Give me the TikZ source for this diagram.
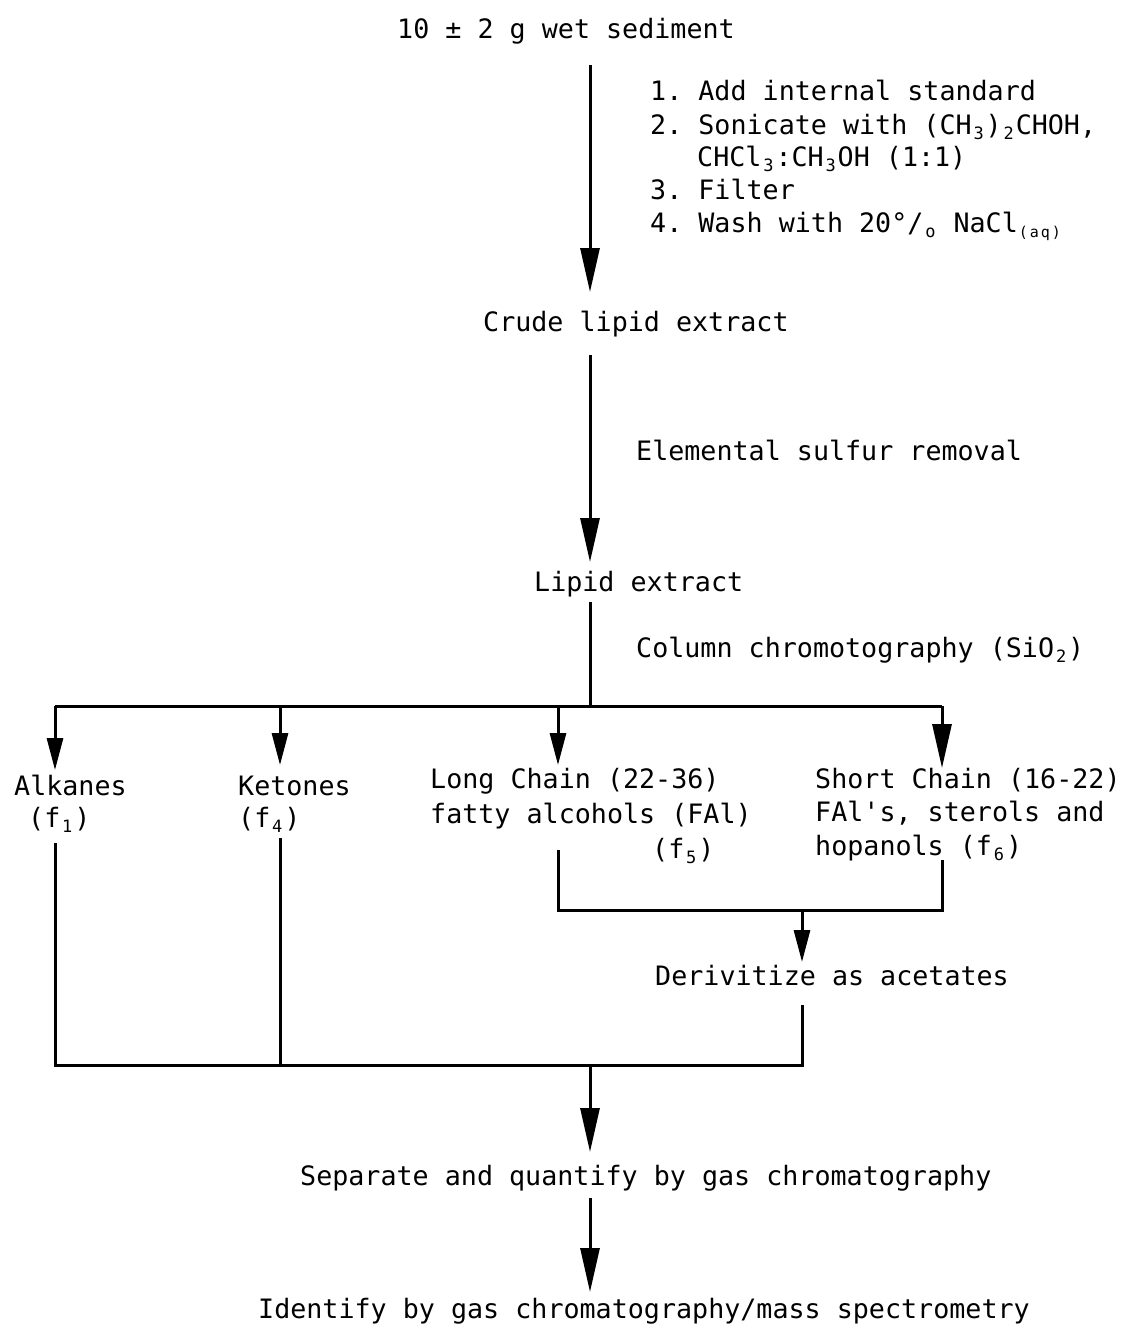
\documentclass[tikz,border=0pt]{standalone}
\usepackage{fontspec}
\setmainfont{DejaVu Sans Mono}
\usetikzlibrary{arrows.meta}
\newcommand\lowsub[1]{\makebox[14pt][c]{\raisebox{-0.22em}{\fontsize{17}{17}\selectfont #1}}}
\newcommand\lowsc[1]{\makebox[11pt][c]{\raisebox{-0.22em}{\fontsize{15}{15}\selectfont #1}}}
\begin{document}
\frenchspacing
\begin{tikzpicture}[x=1pt,y=-1pt,
  font=\fontsize{26.7}{33}\selectfont,
  txt/.style={anchor=base west, inner sep=0pt},
  conn/.style={line width=3pt},
  bigarrow/.style={line width=3pt, -{Triangle[length=44pt,width=19pt]}},
  smallarrow/.style={line width=3pt, -{Triangle[length=32pt,width=16pt]}}]
\useasboundingbox (0,0) rectangle (1121,1326);
% text nodes
\node[txt] (sed) at (397,38) {10 ± 2 g wet sediment};
\node[txt] (s1) at (650,100) {1. Add internal standard};
\node[txt] (s2) at (650,134) {2. Sonicate with (CH\lowsub{3})\lowsub{2}CHOH,};
\node[txt] (s2b) at (697,166) {CHCl\lowsub{3}:CH\lowsub{3}OH (1:1)};
\node[txt] (s3) at (650,199) {3. Filter};
\node[txt] (s4) at (650,232) {4. Wash with 20°/\lowsub{o} NaCl\lowsc{(}\lowsc{a}\lowsc{q}\lowsc{)}};
\node[txt] (crude) at (483,331) {Crude lipid extract};
\node[txt] (sulf) at (636,460) {Elemental sulfur removal};
\node[txt] (lipid) at (534,591) {Lipid extract};
\node[txt] (col) at (636,657) {Column chromotography (SiO\lowsub{2})};
\node[txt] (alk) at (14,795) {Alkanes};
\node[txt] (alkf) at (28,827) {(f\lowsub{1})};
\node[txt] (ket) at (238,795) {Ketones};
\node[txt] (ketf) at (238,827) {(f\lowsub{4})};
\node[txt] (lc1) at (430,788) {Long Chain (22-36)};
\node[txt] (lc2) at (430,823) {fatty alcohols (FAl)};
\node[txt] (lc3) at (652,858) {(f\lowsub{5})};
\node[txt] (sc1) at (815,788) {Short Chain (16-22)};
\node[txt] (sc2) at (815,821) {FAl\textquotesingle s, sterols and};
\node[txt] (sc3) at (815,855) {hopanols (f\lowsub{6})};
\node[txt] (der) at (655,985) {Derivitize as acetates};
\node[txt] (sep) at (300,1185) {Separate and quantify by gas chromatography};
\node[txt] (ident) at (258,1318) {Identify by gas chromatography/mass spectrometry};
% junction coordinates
\coordinate (sp) at (590,0);
\coordinate (xa) at (55,0);
\coordinate (xk) at (280,0);
\coordinate (xl) at (558,0);
\coordinate (xs) at (942,0);
\coordinate (xd) at (802,0);
\coordinate (bar1) at (0,706);
\coordinate (bar2) at (0,910);
\coordinate (bar3) at (0,1065);
% main spine
\draw[bigarrow] (sp |- 0,65) -- (sp |- 0,292);
\draw[bigarrow] (sp |- 0,355) -- (sp |- 0,562);
\draw[conn] (sp |- 0,602) -- (sp |- bar1);
\draw[conn] (xa |- bar1) -- (xs |- bar1);
\draw[smallarrow] (xa |- bar1) -- (xa |- 0,770);
\draw[smallarrow] (xk |- bar1) -- (xk |- 0,765);
\draw[smallarrow] (xl |- bar1) -- (xl |- 0,765);
\draw[bigarrow] (xs |- bar1) -- (xs |- 0,768);
% second level
\draw[conn] (xl |- 0,850) -- (xl |- bar2) -- (xs |- bar2) -- (xs |- 0,860);
\draw[smallarrow] (xd |- bar2) -- (xd |- 0,962);
\draw[conn] (xd |- 0,1005) -- (xd |- bar3) -- (xa |- bar3) -- (xa |- 0,843);
\draw[conn] (xk |- 0,838) -- (xk |- bar3);
\draw[bigarrow] (sp |- bar3) -- (sp |- 0,1152);
\draw[bigarrow] (sp |- 0,1198) -- (sp |- 0,1292);
\end{tikzpicture}
\end{document}
